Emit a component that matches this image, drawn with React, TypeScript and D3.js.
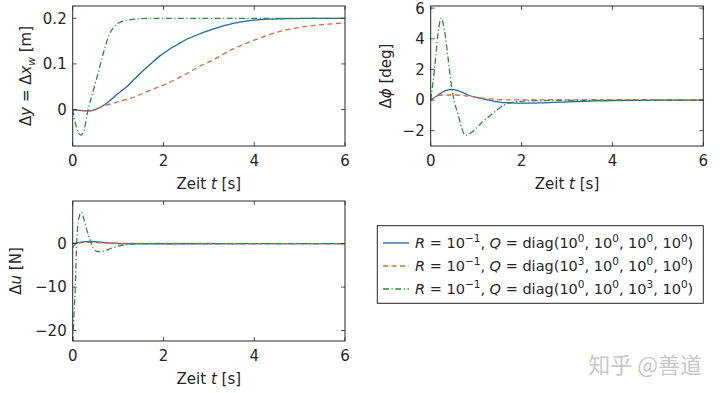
import React from 'react';
import * as d3 from 'd3';

type Pt = [number, number];

// time axis (shared by all three panels)
const timeDomain: [number, number] = [0, 6];
const timeTicks = [0, 2, 4, 6];

// Δy = Δx_w [m]
const dyBlue: Pt[] = [
  [0, 0], [0.15, -0.002], [0.35, -0.003], [0.5, 0], [0.63, 0.006], [0.8, 0.018],
  [1.0, 0.035], [1.2, 0.051], [1.37, 0.068], [1.55, 0.085], [1.73, 0.101], [1.9, 0.116],
  [2.1, 0.13], [2.3, 0.142], [2.47, 0.152], [2.65, 0.16], [2.83, 0.167], [3.1, 0.177],
  [3.54, 0.189], [3.9, 0.195], [4.3, 0.198], [4.64, 0.199], [5.2, 0.2], [6, 0.2],
];
const dyOrange: Pt[] = [
  [0, 0], [0.15, -0.002], [0.35, -0.003], [0.5, 0], [0.63, 0.006], [0.9, 0.014],
  [1.37, 0.028], [1.7, 0.042], [2.1, 0.058], [2.5, 0.078], [2.8, 0.095], [3.0, 0.104],
  [3.54, 0.133], [4.0, 0.152], [4.27, 0.162], [4.6, 0.172], [5.0, 0.18], [5.5, 0.186], [6, 0.19],
];
const dyGreen: Pt[] = [
  [0, 0], [0.06, -0.03], [0.12, -0.05], [0.18, -0.056], [0.25, -0.045], [0.34, 0],
  [0.45, 0.04], [0.56, 0.08], [0.68, 0.125], [0.81, 0.165], [0.9, 0.18], [1.0, 0.189],
  [1.15, 0.195], [1.37, 0.198], [1.7, 0.2], [6, 0.2],
];
const dyTicks = [0, 0.1, 0.2];

// Δφ [deg]
const dphiBlue: Pt[] = [
  [0, 0], [0.15, 0.3], [0.3, 0.58], [0.45, 0.7], [0.6, 0.62], [0.82, 0.33], [1.0, 0.17],
  [1.19, 0.05], [1.4, -0.08], [1.63, -0.17], [2.1, -0.2], [2.6, -0.17], [3.0, -0.12],
  [3.5, -0.07], [4, -0.03], [5, -0.01], [6, 0],
];
const dphiOrange: Pt[] = [
  [0, 0], [0.1, 0.2], [0.23, 0.33], [0.5, 0.33], [0.82, 0.26], [1.05, 0.16], [1.26, 0.09],
  [1.55, 0.02], [2, 0.01], [3, 0.01], [6, 0],
];
const dphiGreen: Pt[] = [
  [0, 0], [0.09, 2.2], [0.16, 4.3], [0.23, 5.35], [0.3, 4.6], [0.38, 2.8], [0.45, 1.09],
  [0.52, -0.1], [0.6, -0.9], [0.68, -1.8], [0.76, -2.29], [0.85, -2.2], [1.0, -1.85],
  [1.11, -1.52], [1.25, -1.15], [1.41, -0.76], [1.55, -0.45], [1.7, -0.22], [1.9, -0.1],
  [2.3, -0.04], [3, -0.02], [6, 0],
];
const dphiTicks = [-2, 0, 2, 4, 6];

// Δu [N]
const duBlue: Pt[] = [
  [0, 0], [0.05, 0.1], [0.15, 0.3], [0.3, 0.45], [0.4, 0.48], [0.6, 0.35], [0.8, 0.15],
  [1.0, 0.02], [1.3, -0.05], [2, -0.03], [6, 0],
];
const duOrange: Pt[] = [
  [0, -1.0], [0.05, -0.2], [0.15, 0.2], [0.3, 0.3], [0.6, 0.2], [1, 0.05], [6, 0],
];
const duGreen: Pt[] = [
  [0, -22.6], [0.03, -16], [0.06, -9.2], [0.08, -2], [0.1, 2.5], [0.14, 6], [0.19, 7.2],
  [0.25, 5.5], [0.32, 2.8], [0.4, 0.3], [0.45, -1.07], [0.56, -1.86], [0.7, -1.7],
  [0.85, -1.07], [1.0, -0.6], [1.15, -0.3], [1.3, -0.1], [1.6, 0], [6, 0],
];
const duTicks = [-20, -10, 0];

// legend: R = 10^rExp, Q = diag(10^a, 10^b, 10^c, 10^d)
const rExponent = '−1';
const qExponents = [
  ['0', '0', '0', '0'],
  ['3', '0', '0', '0'],
  ['0', '0', '3', '0'],
];

const colors = ['#1d69a6', '#d9683f', '#2f8a3c'];
const dashes = [null, '5,3.5', '6,2.5,1.2,2.5'];

const FONT = '"DejaVu Sans", sans-serif';
const INK = '#262626';

type Part = { t: string; it?: boolean; sup?: boolean; sub?: boolean };

function Rich({ parts, small = 10.5 }: { parts: Part[]; small?: number }) {
  let cur = 0;
  return (
    <>
      {parts.map((p, i) => {
        const target = p.sup ? -6 : p.sub ? 4 : 0;
        const dy = target - cur;
        cur = target;
        return (
          <tspan
            key={i}
            dy={dy || undefined}
            fontStyle={p.it ? 'italic' : undefined}
            fontSize={p.sup || p.sub ? small : undefined}
          >
            {p.t}
          </tspan>
        );
      })}
    </>
  );
}

type PanelDef = {
  x0: number; x1: number; y0: number; y1: number;
  yDomain: [number, number];
  yTicks: number[];
  fmt: (v: number) => string;
  series: Pt[][];
  ylabel: Part[];
  ylabelX: number;
  id: string;
};

const panels: PanelDef[] = [
  {
    id: 'p1', x0: 72.7, x1: 345, y0: 6, y1: 146, yDomain: [-0.08, 0.227], yTicks: dyTicks,
    fmt: d3.format('~g'), series: [dyBlue, dyOrange, dyGreen], ylabelX: 26,
    ylabel: [{ t: 'Δ' }, { t: 'y', it: true }, { t: ' = Δ' }, { t: 'x', it: true }, { t: 'w', it: true, sub: true }, { t: ' [m]' }],
  },
  {
    id: 'p2', x0: 430.7, x1: 703.3, y0: 6, y1: 146, yDomain: [-3.0, 6.14], yTicks: dphiTicks,
    fmt: d3.format('d'), series: [dphiBlue, dphiOrange, dphiGreen], ylabelX: 386,
    ylabel: [{ t: 'Δ' }, { t: 'ϕ', it: true }, { t: ' [deg]' }],
  },
  {
    id: 'p3', x0: 72.7, x1: 345, y0: 201, y1: 341, yDomain: [-22.4, 9.8], yTicks: duTicks,
    fmt: d3.format('d'), series: [duBlue, duOrange, duGreen], ylabelX: 16,
    ylabel: [{ t: 'Δ' }, { t: 'u', it: true }, { t: ' [N]' }],
  },
];

function Panel({ p }: { p: PanelDef }) {
  const x = d3.scaleLinear().domain(timeDomain).range([p.x0, p.x1]);
  const y = d3.scaleLinear().domain(p.yDomain).range([p.y1, p.y0]);
  const line = d3
    .line<Pt>()
    .x((d) => x(d[0]))
    .y((d) => y(d[1]))
    .curve(d3.curveMonotoneX);
  const tl = 4;
  return (
    <g>
      <defs>
        <clipPath id={`clip-${p.id}`}>
          <rect x={p.x0} y={p.y0} width={p.x1 - p.x0} height={p.y1 - p.y0} />
        </clipPath>
      </defs>
      <g clipPath={`url(#clip-${p.id})`}>
        {p.series.map((s, i) => (
          <path
            key={i}
            d={line(s) || ''}
            fill="none"
            stroke={colors[i]}
            strokeWidth={1.3}
            strokeDasharray={dashes[i] || undefined}
          />
        ))}
      </g>
      {/* ticks inside, on all four sides */}
      {timeTicks.map((t) => (
        <g key={`xt${t}`} stroke={INK} strokeWidth={0.8}>
          <line x1={x(t)} x2={x(t)} y1={p.y1} y2={p.y1 - tl} />
          <line x1={x(t)} x2={x(t)} y1={p.y0} y2={p.y0 + tl} />
        </g>
      ))}
      {p.yTicks.map((t) => (
        <g key={`yt${t}`} stroke={INK} strokeWidth={0.8}>
          <line x1={p.x0} x2={p.x0 + tl} y1={y(t)} y2={y(t)} />
          <line x1={p.x1} x2={p.x1 - tl} y1={y(t)} y2={y(t)} />
        </g>
      ))}
      <rect x={p.x0} y={p.y0} width={p.x1 - p.x0} height={p.y1 - p.y0} fill="none" stroke={INK} strokeWidth={1} />
      {timeTicks.map((t) => (
        <text key={`xl${t}`} x={x(t)} y={p.y1 + 20} textAnchor="middle" fontSize={15} fill={INK}>
          {d3.format('d')(t)}
        </text>
      ))}
      {p.yTicks.map((t) => (
        <text key={`yl${t}`} x={p.x0 - 6} y={y(t)} dy="0.36em" textAnchor="end" fontSize={15} fill={INK}>
          {p.fmt(t)}
        </text>
      ))}
      <text x={(p.x0 + p.x1) / 2} y={p.y1 + 43} textAnchor="middle" fontSize={15} fill={INK}>
        <Rich parts={[{ t: 'Zeit ' }, { t: 't', it: true }, { t: ' [s]' }]} />
      </text>
      <text
        transform={`translate(${p.ylabelX},${(p.y0 + p.y1) / 2}) rotate(-90)`}
        textAnchor="middle"
        dy="0.35em"
        fontSize={15}
        fill={INK}
      >
        <Rich parts={p.ylabel} />
      </text>
    </g>
  );
}

function legendParts(q: string[]): Part[] {
  const parts: Part[] = [{ t: 'R', it: true }, { t: ' = 10' }, { t: rExponent, sup: true }, { t: ', ' }, { t: 'Q', it: true }, { t: ' = diag(' }];
  q.forEach((e, i) => {
    parts.push({ t: '10' });
    parts.push({ t: e, sup: true });
    parts.push({ t: i < q.length - 1 ? ', ' : ')' });
  });
  return parts;
}

export default function App() {
  const legendRows = d3.range(qExponents.length);
  const ly = d3.scalePoint<number>().domain(legendRows).range([243, 289]);
  return (
    <svg
      width={720}
      height={393}
      style={{ position: 'absolute', left: 0, top: 0, background: '#fff' }}
      fontFamily={FONT}
    >
      {panels.map((p) => (
        <Panel key={p.id} p={p} />
      ))}
      <g>
        <rect x={377.3} y={225.7} width={326} height={77.6} fill="#fff" stroke={INK} strokeWidth={1} />
        {legendRows.map((i) => (
          <g key={i}>
            <line
              x1={383}
              x2={409}
              y1={ly(i)}
              y2={ly(i)}
              stroke={colors[i]}
              strokeWidth={1.3}
              strokeDasharray={dashes[i] || undefined}
            />
            <text x={415} y={ly(i)} dy="0.35em" fontSize={14.5} fill={INK}>
              <Rich parts={legendParts(qExponents[i])} />
            </text>
          </g>
        ))}
      </g>
      <text x={702} y={373} textAnchor="end" fontSize={22} fill="#c8c8c8" fontFamily='"Noto Sans CJK SC", sans-serif'>
        知乎 @善道
      </text>
    </svg>
  );
}
